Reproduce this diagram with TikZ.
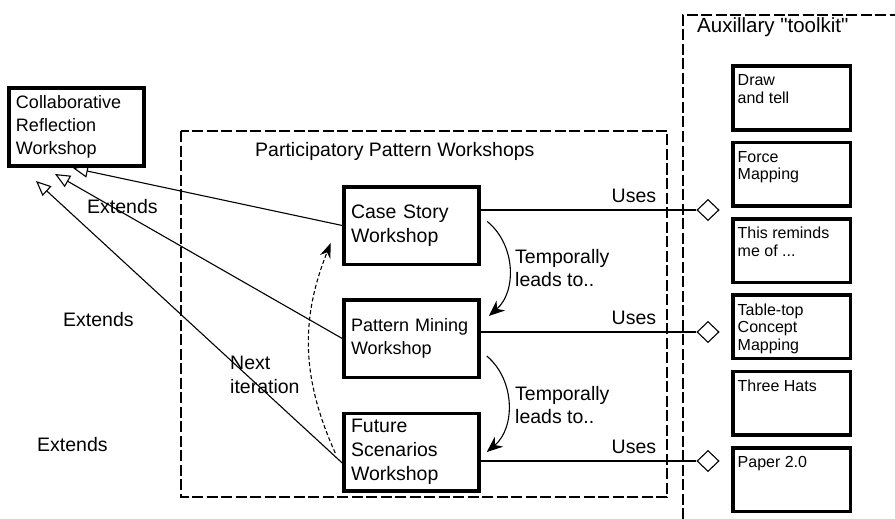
\documentclass[tikz,border=0pt]{standalone}
\usepackage{fontspec}
\setmainfont{Liberation Sans}
\usetikzlibrary{arrows.meta,shapes.geometric}

\begin{document}
\begin{tikzpicture}[x=1pt,y=-1pt,
    wsbox/.style={draw,line width=3.5pt,minimum height=77.5pt,text width=121pt,
      inner xsep=7pt,align=left,font=\fontsize{19.5}{24}\selectfont},
    toolbox/.style={draw,line width=3.5pt,minimum width=117.5pt,minimum height=63.5pt},
    tooltext/.style={anchor=north west,align=left,inner sep=0pt,xshift=6.5pt,yshift=-10pt,
      font=\fontsize{16}{17.5}\selectfont},
    frame/.style={line width=1.1pt,dash pattern=on 11pt off 3.5pt},
    thinline/.style={line width=1.1pt},
    extends/.style={thinline,-{Triangle[open,length=15pt,width=13pt,line width=1.1pt]}},
    leads/.style={thinline,-{Stealth[length=16pt,width=13pt]}},
    usesdiamond/.style={draw,diamond,thinline,fill=white,minimum width=22pt,
      minimum height=21pt,inner sep=0pt},
    lbl/.style={inner sep=0pt,font=\fontsize{19.5}{23.5}\selectfont}]
    \useasboundingbox (0,0) rectangle (895,519);
    % the two frames
    \draw[frame] (181,131) rectangle (667,497);
    \draw[frame] (683,519) -- (683,15) -- (895,15);
    \node[lbl,anchor=base west] (parttitle) at (255,156) {Participatory Pattern Workshops};
    \node[lbl,anchor=base west,font=\fontsize{20.5}{24}\selectfont] (tooltitle) at (697,33)
        {Auxillary \textquotedbl toolkit\textquotedbl};
    % workshops
    \node[wsbox,font=\fontsize{18}{23}\selectfont] (collab) at (76.5,127)
        {Collaborative\\Reflection\\Workshop};
    \node[wsbox] (case) at (411.5,225.5) {Case Story\\Workshop};
    \node[wsbox,font=\fontsize{18}{23.5}\selectfont] (mining) at (411.5,338.5)
        {Pattern Mining\\Workshop};
    \node[wsbox] (future) at (411.5,452) {Future\\Scenarios\\Workshop};
    % toolkit boxes
    \foreach \name/\txt [count=\i] in {draw/{Draw\\and tell},force/{Force\\Mapping},
        reminds/{This reminds\\me of ...},tabletop/{Table-top\\Concept\\Mapping},
        hats/{Three Hats},paper/{Paper 2.0}}
      \node[toolbox,label={[tooltext]north west:\txt}] (\name) at (791.5,{98+76.3*(\i-1)}) {};
    % uses
    \node[usesdiamond] (usecase) at (708,210) {};
    \node[usesdiamond] (usemining) at (708,332) {};
    \node[usesdiamond] (usefuture) at (708,461) {};
    \draw[thinline] (case.east |- usecase.west) -- node[lbl,pos=0.71,above=7pt] {Uses} (usecase.west);
    \draw[thinline] (mining.east |- usemining.west) -- node[lbl,pos=0.71,above=7pt] {Uses} (usemining.west);
    \draw[thinline] (future.east |- usefuture.west) -- node[lbl,pos=0.71,above=7pt] {Uses} (usefuture.west);
    % extends
    \coordinate (ext1) at (73,168);
    \coordinate (ext2) at (55,174);
    \coordinate (ext3) at (36,181);
    \draw[extends] (case.west) -- (ext1);
    \draw[extends] (mining.west) -- (ext2);
    \draw[extends] ([yshift=-11pt]future.west) -- (ext3);
    \node[lbl,anchor=base west] (ext1lbl) at (87,213) {Extends};
    \node[lbl,anchor=base west] (ext2lbl) at (63,326) {Extends};
    \node[lbl,anchor=base west] (ext3lbl) at (37,451) {Extends};
    % order of the workshops
    \draw[leads] ([xshift=6.5pt,yshift=4pt]case.east) to[bend left=50]
        ([xshift=8pt,yshift=22.5pt]mining.east);
    \draw[leads] ([xshift=6pt,yshift=-17.5pt]mining.east) to[bend left=50]
        ([xshift=6pt]future.east);
    \node[lbl,anchor=north west,align=left] (leads1) at (515,249) {Temporally\\leads to..};
    \node[lbl,anchor=north west,align=left] (leads2) at (515,386) {Temporally\\leads to..};
    \draw[thinline,dash pattern=on 4pt off 2.5pt,-{Stealth[length=15pt,width=11pt]}]
        ([xshift=-7pt,yshift=-1pt]future.west) to[bend left=23]
        ([xshift=-11.5pt,yshift=-17.5pt]case.west);
    \node[lbl,anchor=north west,align=left] (nextlbl) at (230,356) {Next\\iteration};
\end{tikzpicture}
\end{document}
